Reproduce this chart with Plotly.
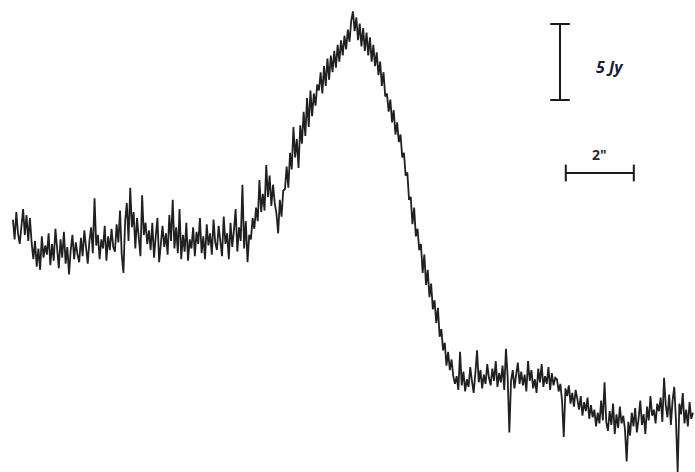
import numpy as np
import plotly.graph_objects as go

# Flux profile sampled every 0.05 arcsec from -10" to +10" (Jy)
offset_start = -10.0
offset_step = 0.05
flux = [
    14.5, 13.2, 15.0, 13.6, 12.9, 14.2, 15.2, 13.5, 14.8, 13.1, 14.6, 13.0, 11.9, 13.1, 11.4, 12.6, 11.2, 13.4, 12.0, 12.8,
    12.2, 13.6, 11.5, 12.9, 11.8, 13.9, 12.4, 11.3, 13.2, 12.0, 13.7, 11.6, 12.7, 10.9, 12.5, 13.5, 11.9, 13.0, 12.2, 11.7,
    13.3, 12.1, 13.8, 12.4, 11.6, 13.1, 14.0, 12.3, 15.9, 12.8, 13.5, 11.9, 13.2, 12.6, 14.1, 11.8, 13.4, 12.5, 13.9, 12.7,
    12.4, 14.2, 13.0, 15.1, 12.2, 11.0, 14.4, 15.6, 13.1, 16.6, 14.0, 15.0, 12.6, 14.6, 13.3, 12.1, 16.1, 13.5, 14.3, 12.9,
    13.8, 12.5, 14.3, 12.0, 13.4, 14.6, 11.7, 13.0, 14.1, 12.7, 13.6, 12.2, 14.8, 13.1, 15.8, 12.6, 14.0, 12.3, 15.2, 11.9,
    13.5, 12.4, 14.3, 11.8, 13.2, 12.6, 14.0, 12.1, 13.7, 12.9, 14.6, 12.3, 13.4, 11.9, 14.2, 12.8, 13.6, 12.2, 14.5, 13.0,
    12.5, 14.1, 13.0, 12.1, 14.7, 12.9, 13.6, 11.9, 14.3, 12.7, 13.8, 15.2, 12.4, 14.0, 13.1, 16.8, 12.6, 14.4, 11.7, 13.5,
    13.2, 14.6, 13.9, 15.3, 14.4, 17.1, 15.0, 16.2, 15.1, 18.1, 16.0, 17.4, 15.4, 16.8, 15.6, 14.9, 13.6, 15.8, 14.7, 16.4,
    16.5, 18.0, 16.6, 18.9, 17.8, 20.6, 18.6, 19.8, 17.9, 20.7, 19.5, 21.6, 20.0, 22.5, 20.6, 23.0, 21.3, 22.8, 22.0, 23.4,
    23.0, 24.2, 22.8, 24.6, 23.3, 25.1, 23.7, 25.3, 24.2, 25.6, 24.5, 26.0, 24.9, 26.3, 25.3, 26.6, 25.7, 27.0, 26.2, 27.6,
    28.2, 26.9, 27.8, 26.3, 27.4, 25.9, 27.1, 25.6, 26.8, 25.3, 26.5, 24.9, 26.0, 24.6, 25.5, 24.0, 24.9, 23.3, 24.2, 22.6,
    22.8, 21.6, 22.4, 20.9, 21.7, 20.1, 20.9, 19.6, 20.1, 18.6, 18.9, 17.4, 17.6, 15.8, 16.0, 14.2, 15.3, 13.4, 13.9, 12.5,
    12.9, 11.0, 12.2, 10.2, 11.2, 9.4, 10.3, 8.6, 9.2, 7.7, 8.7, 6.8, 7.3, 5.9, 6.4, 4.9, 5.8, 4.6, 5.3, 4.2,
    3.7, 4.2, 3.3, 5.8, 3.6, 4.5, 3.2, 4.0, 3.5, 4.8, 3.9, 3.1, 4.4, 5.9, 3.8, 4.6, 3.4, 4.3, 3.7, 5.0,
    4.1, 3.6, 4.7, 3.9, 5.2, 3.5, 4.4, 3.8, 4.9, 3.3, 6.0, 4.2, 0.5, 3.9, 4.6, 3.4, 4.3, 5.1, 3.7, 4.5,
    3.6, 4.3, 3.2, 5.2, 3.9, 4.6, 3.4, 4.0, 3.1, 4.7, 3.8, 5.0, 3.5, 4.2, 3.7, 4.8, 3.3, 4.4, 3.6, 4.1,
    4.0, 3.2, 3.7, 2.6, 0.2, 3.4, 2.9, 3.6, 2.4, 3.1, 2.2, 3.3, 2.7, 2.0, 2.9, 1.6, 2.5, 1.9, 2.8, 1.4,
    2.3, 1.5, 2.0, 0.9, 1.8, 1.1, 2.6, 1.3, 3.8, 1.2, 0.6, 1.9, 1.0, 2.4, 0.4, 1.7, 0.8, 2.2, 1.1, 1.6,
    0.7, -1.4, 1.2, 0.3, 1.8, 0.9, 2.1, 0.5, 1.4, 2.6, 1.0, 1.7, 0.4, 2.2, 1.3, 2.9, 1.6, 2.0, 1.1, 2.4,
    1.9, 2.8, 1.2, 4.1, 2.3, 1.5, 3.0, 1.0, 2.6, 3.5, 1.3, -2.1, 2.4, 1.7, 3.1, 1.1, 2.0, 0.9, 2.5, 1.4,
    1.8,
]
offset = offset_start + offset_step * np.arange(len(flux))

# Scale bars: 5 Jy vertical, 2 arcsec horizontal
flux_bar = 5.0
flux_bar_x = 6.09
flux_bar_base = 22.37
ang_bar = 2.0
ang_bar_x0 = 6.26
ang_bar_y = 17.57

fig = go.Figure()

fig.add_trace(go.Scatter(
    x=offset, y=flux, mode="lines",
    line=dict(color="#202020", width=1.8),
    hoverinfo="skip", showlegend=False,
))

# vertical flux scale bar with caps
fig.add_trace(go.Scatter(
    x=[flux_bar_x, flux_bar_x], y=[flux_bar_base, flux_bar_base + flux_bar],
    mode="lines+markers",
    line=dict(color="#1a1a1a", width=2),
    marker=dict(symbol="line-ew", size=14, line=dict(color="#1a1a1a", width=2)),
    hoverinfo="skip", showlegend=False,
))

# horizontal angular scale bar with caps
fig.add_trace(go.Scatter(
    x=[ang_bar_x0, ang_bar_x0 + ang_bar], y=[ang_bar_y, ang_bar_y],
    mode="lines+markers",
    line=dict(color="#1a1a1a", width=2),
    marker=dict(symbol="line-ns", size=12, line=dict(color="#1a1a1a", width=2)),
    hoverinfo="skip", showlegend=False,
))

fig.add_annotation(
    x=flux_bar_x + 1.47, y=flux_bar_base + flux_bar / 2 - 0.3,
    text="<b><i>5 Jy</i></b>", showarrow=False,
    font=dict(family="Open Sans, Arial, sans-serif", size=16, color="#1b1b3a"),
)
fig.add_annotation(
    x=ang_bar_x0 + ang_bar / 2, y=ang_bar_y + 1.2,
    text="<b>2\"</b>", showarrow=False,
    font=dict(family="Open Sans, Arial, sans-serif", size=14, color="#2a2a2a"),
)

fig.update_layout(
    width=695, height=472,
    margin=dict(l=0, r=0, t=0, b=0),
    paper_bgcolor="white", plot_bgcolor="white",
    xaxis=dict(range=[-10.38, 10.06], visible=False, fixedrange=True),
    yaxis=dict(range=[-2.1, 28.95], visible=False, fixedrange=True),
)

fig.write_html("out.html")
